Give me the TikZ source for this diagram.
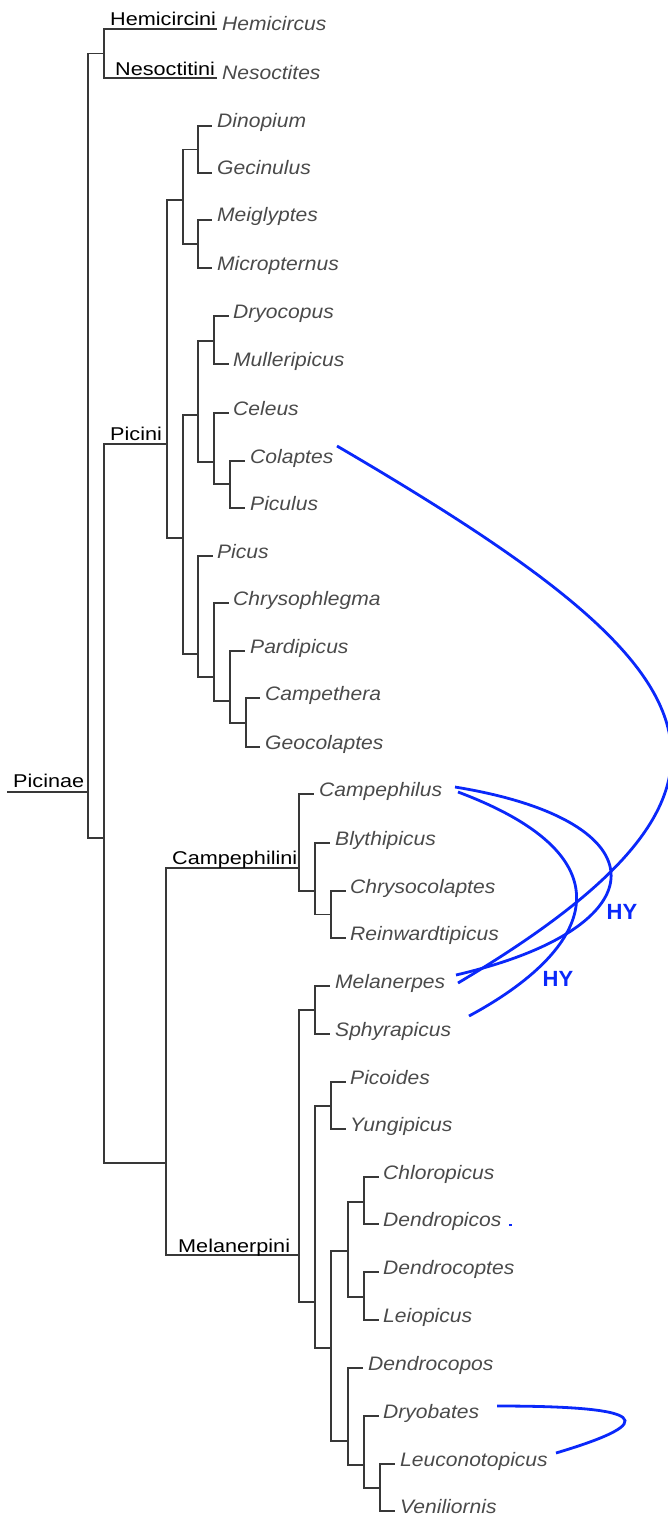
\documentclass[tikz,border=0pt]{standalone}
\usepackage{fontspec}
\setmainfont{Liberation Sans}
\newfontfamily\tribefont[FakeStretch=1.17]{Liberation Sans}
\newfontfamily\leaffont[FakeStretch=1.08]{Liberation Sans}
\definecolor{hyblue}{RGB}{10,40,250}
\definecolor{leafgray}{RGB}{74,74,74}
\begin{document}
\begin{tikzpicture}[x=1pt,y=-1pt,
    branch/.style={draw=black!78,line width=1.1pt},
    leaf/.style={anchor=base west,inner sep=0pt,text=leafgray,
      font=\leaffont\itshape\fontsize{19.5}{20}\selectfont},
    tribe/.style={anchor=base west,inner sep=0pt,
      font=\tribefont\fontsize{18.5}{20}\selectfont},
    hyline/.style={draw=hyblue,line width=2.8pt},
    hylabel/.style={text=hyblue,inner sep=0pt,
      font=\bfseries\fontsize{22}{24}\selectfont}]

    \useasboundingbox (0,0) rectangle (668,1517);

    % tips: name / text x / line y / line end x
    \foreach \name/\tx/\y/\tip in {
        Hemicircus/222/29/217, Nesoctites/222/78/217,
        Dinopium/217/126/212, Gecinulus/217/173/212,
        Meiglyptes/217/220/212, Micropternus/217/268/212,
        Dryocopus/233/316/229, Mulleripicus/233/364/229,
        Celeus/233/413/229, Colaptes/250/461/245, Piculus/250/508/245,
        Picus/217/556/213, Chrysophlegma/233/603/229,
        Pardipicus/250/651/245, Campethera/265/698/260,
        Geocolaptes/265/747/260,
        Campephilus/319/794/314, Blythipicus/335/843/330,
        Chrysocolaptes/350/891/346, Reinwardtipicus/350/938/346,
        Melanerpes/335/986/330, Sphyrapicus/335/1034/330,
        Picoides/350/1082/346, Yungipicus/350/1129/346,
        Chloropicus/383/1177/379, Dendropicos/383/1224/379,
        Dendrocoptes/383/1272/379, Leiopicus/383/1320/379,
        Dendrocopos/368/1368/363, Dryobates/383/1416/379,
        Leuconotopicus/400/1464/395, Veniliornis/400/1511/395} {
      \coordinate (t\name) at (\tip,\y);
      \node[leaf] (\name) at (\tx,\y+2) {\name};
    }

    % internal nodes
    \coordinate (stem) at (7,792);
    \coordinate (root) at (88,792);
    \coordinate (nHN) at (104,53.5);
    \coordinate (nRest) at (104,838);
    \coordinate (nPicini) at (167,444);
    \coordinate (nDM) at (183,200);
    \coordinate (nDG) at (198,149.5);
    \coordinate (nMM) at (198,244);
    \coordinate (nDGeo) at (183,538);
    \coordinate (nDC) at (198,415);
    \coordinate (nDryMul) at (214,341);
    \coordinate (nCel) at (214,462);
    \coordinate (nColPic) at (230,484);
    \coordinate (nPic) at (198,654);
    \coordinate (nChry) at (214,677);
    \coordinate (nPard) at (230,701);
    \coordinate (nCampGeo) at (246,723);
    \coordinate (nCM) at (166,1163);
    \coordinate (nCampephilini) at (299,868);
    \coordinate (nBly) at (315,891);
    \coordinate (nChrRei) at (331,914.5);
    \coordinate (nMelanerpini) at (299,1255);
    \coordinate (nMelSph) at (315,1010);
    \coordinate (nPicoRest) at (315,1302);
    \coordinate (nPicYun) at (331,1106);
    \coordinate (nDend) at (331,1348);
    \coordinate (nCD) at (348,1251);
    \coordinate (nChlDen) at (364,1202);
    \coordinate (nDenLei) at (364,1297);
    \coordinate (nDendrocopos) at (348,1441);
    \coordinate (nDryo) at (364,1465);
    \coordinate (nLeuVen) at (380,1488);

    % branches
    \draw[branch] (stem) -- (root);
    \foreach \p/\c in {root/nHN, root/nRest,
        nHN/tHemicircus, nHN/tNesoctites,
        nRest/nPicini, nRest/nCM,
        nPicini/nDM, nPicini/nDGeo,
        nDM/nDG, nDM/nMM,
        nDG/tDinopium, nDG/tGecinulus, nMM/tMeiglyptes, nMM/tMicropternus,
        nDGeo/nDC, nDGeo/nPic,
        nDC/nDryMul, nDC/nCel,
        nDryMul/tDryocopus, nDryMul/tMulleripicus,
        nCel/tCeleus, nCel/nColPic, nColPic/tColaptes, nColPic/tPiculus,
        nPic/tPicus, nPic/nChry, nChry/tChrysophlegma, nChry/nPard,
        nPard/tPardipicus, nPard/nCampGeo,
        nCampGeo/tCampethera, nCampGeo/tGeocolaptes,
        nCM/nCampephilini, nCM/nMelanerpini,
        nCampephilini/tCampephilus, nCampephilini/nBly,
        nBly/tBlythipicus, nBly/nChrRei,
        nChrRei/tChrysocolaptes, nChrRei/tReinwardtipicus,
        nMelanerpini/nMelSph, nMelanerpini/nPicoRest,
        nMelSph/tMelanerpes, nMelSph/tSphyrapicus,
        nPicoRest/nPicYun, nPicoRest/nDend,
        nPicYun/tPicoides, nPicYun/tYungipicus,
        nDend/nCD, nDend/nDendrocopos,
        nCD/nChlDen, nCD/nDenLei,
        nChlDen/tChloropicus, nChlDen/tDendropicos,
        nDenLei/tDendrocoptes, nDenLei/tLeiopicus,
        nDendrocopos/tDendrocopos, nDendrocopos/nDryo,
        nDryo/tDryobates, nDryo/nLeuVen,
        nLeuVen/tLeuconotopicus, nLeuVen/tVeniliornis} {
      \draw[branch] (\p) |- (\c);
    }

    % clade labels
    \node[tribe] (Picinae) at (13,787) {Picinae};
    \node[tribe] (Hemicircini) at (110,26) {Hemicircini};
    \node[tribe] (Nesoctitini) at (115,75.5) {Nesoctitini};
    \node[tribe] (Picini) at (110,440) {Picini};
    \node[tribe] (Campephilini) at (172,864) {Campephilini};
    \node[tribe] (Melanerpini) at (178,1252.5) {Melanerpini};

    % hybridisation links
    \coordinate (hyColaptes) at (337,446);
    \coordinate (hyMelanerpesA) at (458,983);
    \coordinate (hyCampephilusA) at (455,787);
    \coordinate (hyMelanerpesB) at (456,975);
    \coordinate (hyCampephilusB) at (458,792);
    \coordinate (hySphyrapicus) at (469,1016);
    \coordinate (hyDryobates) at (497,1406);
    \coordinate (hyLeuconotopicus) at (556,1453);

    \draw[hyline] (hyColaptes) .. controls (708,663) and (801.6,778.6) .. (hyMelanerpesA);
    \draw[hyline] (hyCampephilusA) .. controls (664,821) and (662,927) .. (hyMelanerpesB);
    \draw[hyline] (hyCampephilusB) .. controls (635.8,858.7) and (591.9,949.9) .. (hySphyrapicus);
    \draw[hyline] (hyDryobates) .. controls (647,1406) and (663.3,1421) .. (hyLeuconotopicus);
    \fill[hyblue] (508.5,1224) rectangle (511.5,1226);

    \node[hylabel] (hyUpper) at (622,911.5) {HY};
    \node[hylabel] (hyLower) at (558,978.5) {HY};

\end{tikzpicture}
\end{document}
